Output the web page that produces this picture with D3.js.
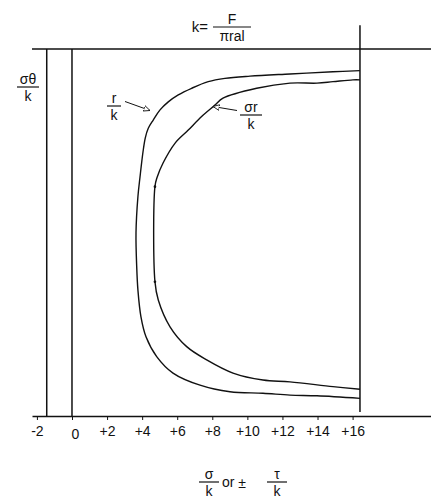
<!DOCTYPE html>
<html>
<head>
<meta charset="utf-8">
<script src="https://cdn.jsdelivr.net/npm/d3@7"></script>
<style>
  html, body { margin: 0; padding: 0; background: #fff; }
  svg { display: block; }
  text { font-family: "Liberation Sans", Arial, sans-serif; fill: #111; }
</style>
</head>
<body>
<svg id="chart" width="431" height="500"></svg>
<script>
// Horizontal axis ticks (sigma/k or tau/k)
const xTicks = [-2, 0, 2, 4, 6, 8, 10, 12, 14, 16];

// Outer envelope  r/k
const outerX = [16.42, 14.88, 12.43, 10.15, 8.72, 7.77, 6.82, 6.06, 5.49, 5.02, 4.64, 4.35, 4.18, 4.05, 3.88, 3.76, 3.65, 3.69, 3.76, 3.93, 4.22, 4.83, 5.76, 7.30, 9.01, 10.89, 12.43, 13.97, 16.42];
const outerY = [94.1, 93.8, 93.2, 92.6, 92.0, 91.1, 89.3, 87.5, 85.6, 83.4, 80.7, 78.4, 75.8, 72.0, 65.2, 59.8, 49.9, 40.7, 34.3, 27.1, 21.6, 16.2, 11.7, 8.4, 6.6, 6.2, 5.7, 5.5, 4.8];

// Inner envelope  sigma_r/k
const innerX = [16.42, 16.02, 14.88, 13.97, 12.43, 10.53, 8.61, 8.15, 7.39, 6.63, 5.87, 5.20, 4.85, 4.73, 4.73, 4.92, 5.59, 6.54, 7.68, 9.18, 10.89, 12.43, 14.88, 16.42];
const innerY = [91.6, 91.6, 91.1, 90.7, 90.7, 89.3, 86.6, 84.7, 81.6, 77.9, 74.3, 69.0, 65.0, 62.5, 36.6, 31.6, 24.3, 18.9, 15.3, 11.7, 9.8, 9.3, 8.0, 7.3];

// Corner points on the straight part of the inner envelope
const cornerX = [4.73, 4.73];
const cornerY = [62.5, 36.6];

// Frame lines: vertical positions in x units, horizontal levels in y units
const vLinesX = [-1.44, 0];
const rightLineX = 16.42;
const rightLineY = [1.1, 106.5];
const topLevel = 100;

const svg = d3.select("#chart");

const x = d3.scaleLinear().domain([-2.28, 20.47]).range([32, 431]);
const y = d3.scaleLinear().domain([0, 100]).range([416, 49]);

const stroke = "#111";
const fs = 14;

// bottom axis
const axis = d3.axisBottom(x)
  .tickValues(xTicks)
  .tickSizeInner(4)
  .tickSizeOuter(0)
  .tickPadding(6)
  .tickFormat(d => d > 0 ? "+" + d : String(d));

const gAxis = svg.append("g")
  .attr("transform", `translate(0,${y(0)})`)
  .call(axis);
gAxis.select(".domain").attr("stroke", stroke).attr("stroke-width", 1.5);
gAxis.selectAll(".tick line").attr("stroke", stroke).attr("stroke-width", 1);
gAxis.selectAll(".tick text")
  .attr("font-size", fs)
  .attr("fill", "#111")
  .style("font-family", "'Liberation Sans', Arial, sans-serif");
gAxis.selectAll(".tick").filter(d => d === 0).select("text").attr("dx", 3).attr("dy", "0.95em");

// top horizontal line
svg.append("line")
  .attr("x1", x.range()[0]).attr("x2", x.range()[1])
  .attr("y1", y(topLevel)).attr("y2", y(topLevel))
  .attr("stroke", stroke).attr("stroke-width", 1.5);

// left vertical lines
svg.selectAll(".vline").data(vLinesX).enter().append("line")
  .attr("class", "vline")
  .attr("x1", d => x(d)).attr("x2", d => x(d))
  .attr("y1", y(topLevel)).attr("y2", y(0))
  .attr("stroke", stroke).attr("stroke-width", 1.5);

// right vertical line
svg.append("line")
  .attr("x1", x(rightLineX)).attr("x2", x(rightLineX))
  .attr("y1", y(rightLineY[1])).attr("y2", y(rightLineY[0]))
  .attr("stroke", stroke).attr("stroke-width", 1.5);

// envelopes
const line = d3.line()
  .x(d => x(d[0]))
  .y(d => y(d[1]))
  .curve(d3.curveCatmullRom.alpha(0.5));

const outerPts = outerX.map((v, i) => [v, outerY[i]]);
const innerPts = innerX.map((v, i) => [v, innerY[i]]);

svg.append("path").datum(outerPts)
  .attr("d", line).attr("fill", "none")
  .attr("stroke", stroke).attr("stroke-width", 1.4);

svg.append("path").datum(innerPts)
  .attr("d", line).attr("fill", "none")
  .attr("stroke", stroke).attr("stroke-width", 1.4);

svg.selectAll(".corner").data(cornerX).enter().append("circle")
  .attr("class", "corner")
  .attr("cx", d => x(d)).attr("cy", (d, i) => y(cornerY[i]))
  .attr("r", 1.3).attr("fill", stroke);

// fraction helper
function fraction(g, cx, barY, num, den, halfW, size) {
  g.append("text").attr("x", cx).attr("y", barY - 3)
    .attr("text-anchor", "middle").attr("font-size", size).text(num);
  g.append("line").attr("x1", cx - halfW).attr("x2", cx + halfW)
    .attr("y1", barY).attr("y2", barY)
    .attr("stroke", stroke).attr("stroke-width", 1.2);
  g.append("text").attr("x", cx).attr("y", barY + size)
    .attr("text-anchor", "middle").attr("font-size", size).text(den);
}

const labels = svg.append("g");

// title  k = F / (pi r a l)
labels.append("text").attr("x", 200).attr("y", 32)
  .attr("text-anchor", "middle").attr("font-size", 15).text("k=");
fraction(labels, 232, 27, "F", "πral", 19, fs);

// vertical axis label
fraction(labels, 28, 87, "σθ", "k", 11, fs);

// r/k label
fraction(labels, 114, 106, "r", "k", 7, fs);
// sigma_r/k label
fraction(labels, 251, 115, "σr", "k", 11, fs);

// arrows
const defs = svg.append("defs");
defs.append("marker")
  .attr("id", "head").attr("viewBox", "0 0 10 10")
  .attr("refX", 9).attr("refY", 5)
  .attr("markerWidth", 7).attr("markerHeight", 7)
  .attr("orient", "auto-start-reverse")
  .append("path").attr("d", "M0,1 L9,5 L0,9 Z")
  .attr("fill", "#fff").attr("stroke", stroke).attr("stroke-width", 1.2);

labels.append("line")
  .attr("x1", 125).attr("y1", 101.5).attr("x2", 150).attr("y2", 110.5)
  .attr("stroke", stroke).attr("stroke-width", 1)
  .attr("marker-end", "url(#head)");
labels.append("line")
  .attr("x1", 237).attr("y1", 110.5).attr("x2", 213).attr("y2", 106.5)
  .attr("stroke", stroke).attr("stroke-width", 1)
  .attr("marker-end", "url(#head)");

// bottom axis title  sigma/k or ± tau/k
fraction(labels, 209, 482, "σ", "k", 10, fs);
labels.append("text").attr("x", 222).attr("y", 487)
  .attr("font-size", fs).text("or");
labels.append("text").attr("x", 242).attr("y", 488)
  .attr("text-anchor", "middle").attr("font-size", fs).text("±");
fraction(labels, 277, 482, "τ", "k", 10, fs);
</script>
</body>
</html>
